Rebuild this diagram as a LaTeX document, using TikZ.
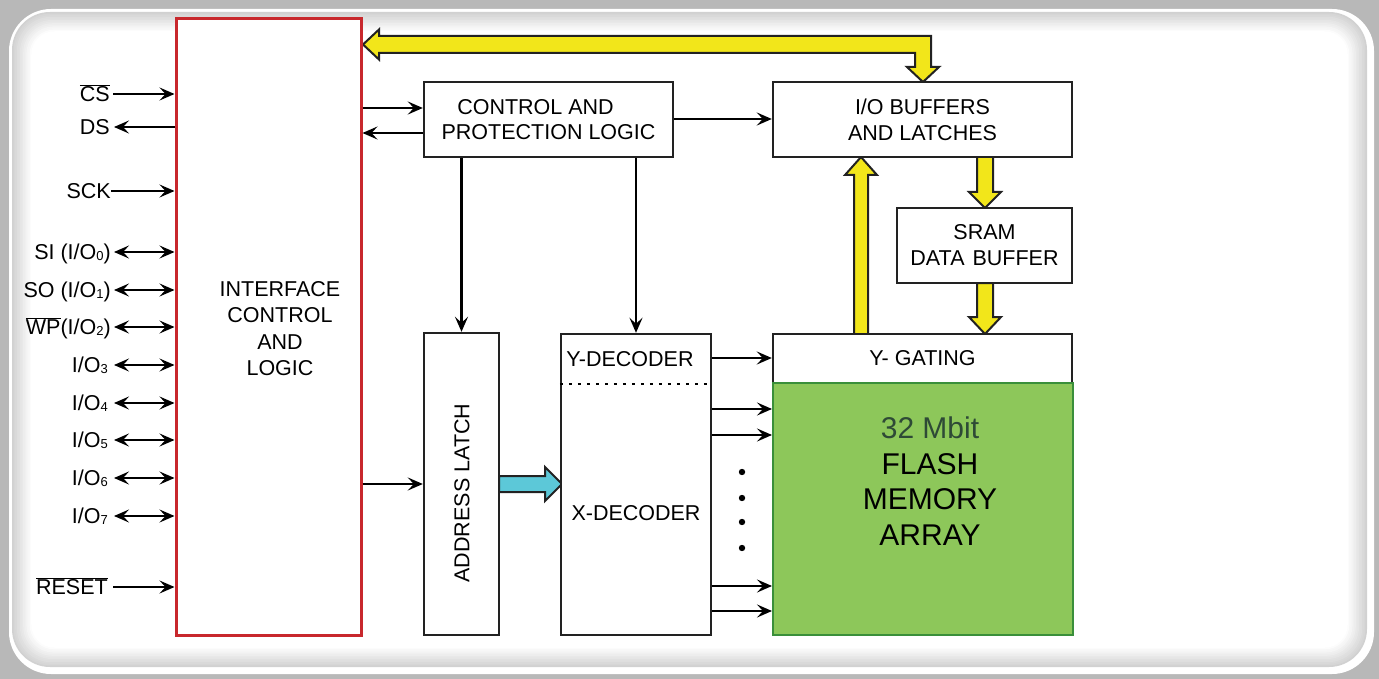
\documentclass[tikz,border=0pt]{standalone}
\usepackage{fontspec}
\setmainfont{Liberation Sans}
\usetikzlibrary{arrows.meta,calc}
\definecolor{boxline}{HTML}{222222}
\definecolor{ifred}{HTML}{C8282D}
\definecolor{busyellow}{HTML}{F2E61A}
\definecolor{latchcyan}{HTML}{5CC8D8}
\definecolor{flashgreen}{HTML}{8DC75A}
\definecolor{flashedge}{HTML}{3A8F3A}
\definecolor{mbit}{HTML}{2E4A36}
\definecolor{outergray}{HTML}{B8B8B8}
\newcommand{\ovl}[1]{$\overline{\hbox{#1}}$}
\newcommand{\iosub}[1]{\raisebox{-1pt}{\fontsize{13}{13}\selectfont #1}}
\begin{document}
\begin{tikzpicture}[x=1pt,y=-1pt,
  blk/.style={draw=boxline,line width=2.4pt,fill=white,inner sep=0pt,align=center,font=\fontsize{21.5}{26}\selectfont},
  lbl/.style={inner sep=0pt,align=center,font=\fontsize{21.5}{26}\selectfont},
  sig/.style={anchor=east,inner sep=0pt,text height=15pt,text depth=0pt,font=\fontsize{21.5}{25}\selectfont},
  wire/.style={draw=black,line width=2.1pt,-{Stealth[length=15pt,width=13pt,inset=6pt]}},
  biwire/.style={draw=black,line width=2.1pt,{Stealth[length=15pt,width=13pt,inset=6pt]}-{Stealth[length=15pt,width=13pt,inset=6pt]}},
  fat/.style={draw=boxline,line width=2pt,line join=miter},
]
% background
\fill[outergray] (0,0) rectangle (1379,679);
\fill[white,rounded corners=42pt] (9,9) rectangle (1374,674);
\foreach \i in {0,...,12}{
  \pgfmathtruncatemacro\g{max(0,18-1.5*\i)}
  \pgfmathsetmacro\d{12+1.6*\i}
  \pgfmathsetmacro\r{38-1.2*\i}
  \fill[black!\g,rounded corners=\r] (\d,\d) rectangle ({1379-\d},{679-\d});
}
\fill[white,rounded corners=22pt] (33,33) rectangle (1346,646);

% fat arrows
\draw[fat,fill=busyellow] (363,44.5) -- (379,29.5) -- (379,36) -- (931,36) -- (931,67) -- (939,67) -- (923,82) -- (907,67) -- (915,67) -- (915,53) -- (379,53) -- (379,59.5) -- cycle;
\draw[fat,fill=busyellow] (854,334) -- (854,175) -- (845,175) -- (861,157) -- (877,175) -- (868,175) -- (868,334) -- cycle;
\draw[fat,fill=busyellow] (977,157) -- (977,192) -- (969,192) -- (985,208) -- (1001,192) -- (993,192) -- (993,157) -- cycle;
\draw[fat,fill=busyellow] (977,283) -- (977,317) -- (969,317) -- (985,334) -- (1001,317) -- (993,317) -- (993,283) -- cycle;
\draw[fat,fill=latchcyan] (499,476) -- (545,476) -- (545,467) -- (562,484) -- (545,501) -- (545,492) -- (499,492) -- cycle;

% blocks
\node[blk,draw=ifred,line width=3pt,minimum width=185pt,minimum height=616pt] (iface) at (268.5,327) {};
\node[lbl,font=\fontsize{21.5}{26.3}\selectfont] (ifacetext) at (280,328.5) {INTERFACE\\CONTROL\\AND\\LOGIC};
\node[blk,minimum width=249pt,minimum height=75pt,font=\fontsize{21.5}{25.5}\selectfont] (ctrl) at (548.5,119.5) {CONTROL AND\hspace*{26pt}\\PROTECTION LOGIC};
\node[blk,minimum width=299pt,minimum height=75pt] (iob) at (922.5,119.5) {I/O BUFFERS\\AND LATCHES};
\node[blk,minimum width=175pt,minimum height=75pt] (sram) at (984.5,245.5) {SRAM\\DATA\hspace{8pt}BUFFER};
\node[blk,minimum width=299pt,minimum height=49pt] (ygate) at (922.5,358.5) {Y- GATING};
\node[draw=flashedge,fill=flashgreen,line width=2pt,inner sep=0pt,minimum width=300pt,minimum height=252pt] (flash) at (923,509) {};
\node[lbl,font=\fontsize{30}{35.7}\selectfont] (flashtext) at (930,481) {\textcolor{mbit}{32 Mbit}\\FLASH\\MEMORY\\ARRAY};
\node[blk,minimum width=75pt,minimum height=302pt] (alatch) at (461.5,484) {};
\node[lbl,rotate=90] (altext) at (462,493) {ADDRESS LATCH};
\node[blk,minimum width=150pt,minimum height=301pt] (dec) at (636,484.5) {};
\node[lbl] (ydec) at (630,359) {Y-DECODER};
\node[lbl] (xdec) at (636,513) {X-DECODER};
\draw[line width=2.5pt,dash pattern=on 3pt off 6pt] (dec.west |- 0,384) -- (dec.east |- 0,384);

% left signals
\node[sig] (cs) at (110,94) {\ovl{CS}};
\node[sig] (ds) at (110,127) {DS};
\node[sig] (sck) at (111,191) {SCK};
\node[sig] (si) at (111,252) {SI (I/O\iosub{0})};
\node[sig] (so) at (111,290) {SO (I/O\iosub{1})};
\node[sig] (wp) at (111,327) {\ovl{WP}(I/O\iosub{2})};
\node[sig] (io3) at (108,365) {I/O\iosub{3}};
\node[sig] (io4) at (108,403) {I/O\iosub{4}};
\node[sig] (io5) at (108,440) {I/O\iosub{5}};
\node[sig] (io6) at (108,478) {I/O\iosub{6}};
\node[sig] (io7) at (108,516) {I/O\iosub{7}};
\node[sig] (rst) at (108,587) {\ovl{RESET}};

\draw[wire] ([xshift=3pt]cs.east) -- (cs.east -| iface.west);
\draw[wire] (ds.east -| iface.west) -- ([xshift=4pt]ds.east);
\draw[wire] (sck.east) -- (sck.east -| iface.west);
\foreach \n in {si,so,wp}{
  \draw[biwire] ([xshift=3pt]\n.east) -- (\n.east -| iface.west);
}
\foreach \n in {io3,io4,io5,io6,io7}{
  \draw[biwire] ([xshift=6pt]\n.east) -- (\n.east -| iface.west);
}
\draw[wire] ([xshift=5pt]rst.east) -- (rst.east -| iface.west);

% internal wires
\draw[wire] (iface.east |- 0,108) -- (ctrl.west |- 0,108);
\draw[wire] (ctrl.west |- 0,133) -- (iface.east |- 0,133);
\draw[wire] (ctrl.east |- 0,119) -- (iob.west |- 0,119);
\draw[wire] (ctrl.south -| alatch.north) -- (alatch.north);
\draw[wire] (ctrl.south -| dec.north) -- (dec.north);
\draw[wire] (iface.east |- alatch.west) -- (alatch.west);
\draw[wire] (dec.east |- 0,358) -- (ygate.west |- 0,358);
\foreach \yy in {409,435,586,611}{
  \draw[wire] (dec.east |- 0,\yy) -- (flash.west |- 0,\yy);
}
\foreach \yy in {472,498,522,548}{
  \fill (742,\yy) circle (3.2pt);
}
\end{tikzpicture}
\end{document}
